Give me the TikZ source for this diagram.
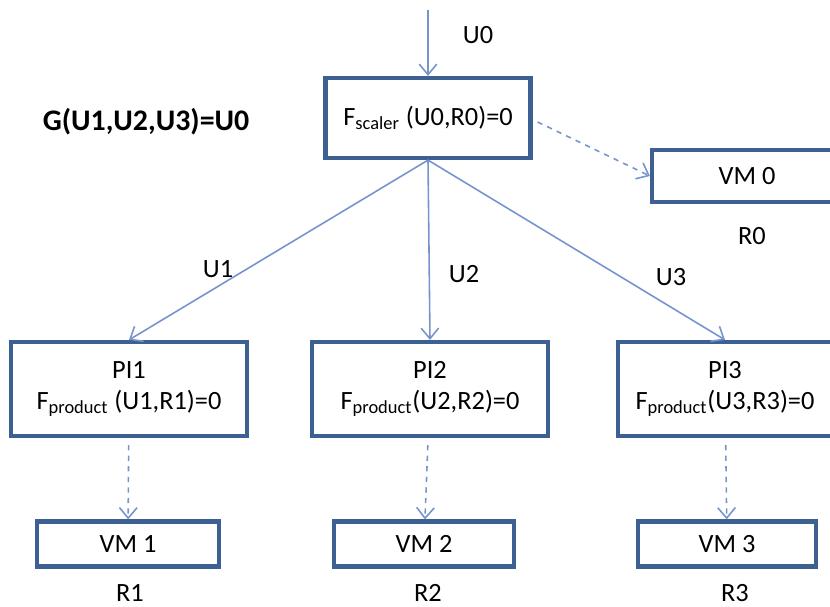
\documentclass[tikz,border=0pt]{standalone}
\usepackage{fontspec}
\setmainfont{Carlito}
\usepackage{tikz}
\usetikzlibrary{arrows.meta}

\definecolor{boxblue}{RGB}{60,96,146}
\definecolor{lineblue}{RGB}{118,148,204}

\begin{document}
\begin{tikzpicture}[x=0.02cm,y=-0.02cm,
    every node/.style={font=\fontsize{15}{18}\selectfont},
    box/.style={draw=boxblue,line width=2.4pt,align=center,inner sep=0pt},
    flow/.style={lineblue,line width=0.9pt,-{Straight Barb[length=6pt,width=10pt]}},
    dflow/.style={flow,dashed}]
            \clip (0,0) rectangle (830,607);

            % Place the scaler and the formula
            \node[box,minimum width=4.1cm,minimum height=1.6cm] (fs) at (428,118) {F\textsubscript{scaler} (U0,R0)=0};
            \node[font=\fontsize{17}{20}\selectfont\bfseries] (g) at (146,122) {G(U1,U2,U3)=U0};
            \coordinate (in) at (428,10);
            \node (u0) at (478,35) {U0};

            % Place the VM of the scaler
            \node[box,minimum width=3.8cm,minimum height=1.04cm] (vm0) at (747,176) {VM 0};
            \node (r0) at (752,236) {R0};

            % Place the product instances
            \node[box,minimum width=4.72cm,minimum height=1.88cm] (pi1) at (129,389) {PI1\\F\textsubscript{product} (U1,R1)=0};
            \node[box,minimum width=4.72cm,minimum height=1.88cm] (pi2) at (430,389) {PI2\\F\textsubscript{product}(U2,R2)=0};
            \node[box,minimum width=4.28cm,minimum height=1.88cm] (pi3) at (725,389) {PI3\\F\textsubscript{product}(U3,R3)=0};
            \node (u1) at (218,269) {U1};
            \node (u2) at (464,274) {U2};
            \node (u3) at (671,277) {U3};

            % Place the VMs
            \node[box,minimum width=3.64cm,minimum height=0.9cm] (vm1) at (128,544) {VM 1};
            \node[box,minimum width=3.6cm,minimum height=0.9cm] (vm2) at (424,544) {VM 2};
            \node[box,minimum width=3.56cm,minimum height=0.9cm] (vm3) at (727,544) {VM 3};
            \node (r1) at (130,593) {R1};
            \node (r2) at (428,593) {R2};
            \node (r3) at (735,593) {R3};

            % The arrows!
            \draw[flow] (in) -- (fs);
            \draw[dflow] (fs.east) ++(5,4) -- (vm0.west);
            \draw[flow] (fs.south) -- (pi1.north);
            \draw[flow] (fs.south) -- (pi2.north);
            \draw[flow] (fs.south) -- (pi3.north);
            \draw[dflow,shorten <=4pt] (pi1) -- (vm1);
            \draw[dflow,shorten <=4pt] (pi2) -- (vm2);
            \draw[dflow,shorten <=4pt] (pi3) -- (vm3);
        \end{tikzpicture}
\end{document}
